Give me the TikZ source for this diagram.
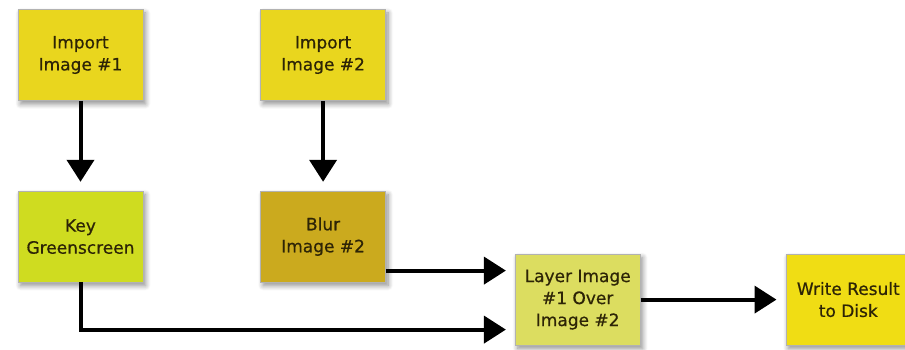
\documentclass[tikz,border=0pt]{standalone}
\usepackage{fontspec}
\setmainfont{DejaVu Sans}
\newfontfamily\boxfont{DejaVu Sans}[FakeBold=0.6]
\usetikzlibrary{positioning,arrows.meta,shadows.blur}

\definecolor{importcol}{RGB}{233,214,30}
\definecolor{keycol}{RGB}{207,220,32}
\definecolor{blurcol}{RGB}{203,170,30}
\definecolor{layercol}{RGB}{220,221,96}
\definecolor{writecol}{RGB}{240,221,20}
\definecolor{boxtext}{RGB}{45,36,6}

\begin{document}
\begin{tikzpicture}[x=1pt,y=1pt,
      box/.style={draw=black!30,line width=0.6pt,minimum width=125pt,minimum height=91pt,
        align=center,text=boxtext,font=\boxfont\fontsize{17}{22}\selectfont,
        blur shadow={shadow xshift=2.5pt,shadow yshift=-3.5pt,shadow blur steps=8,shadow blur radius=5pt,shadow opacity=45}},
      link/.style={line width=4pt,-{Triangle[length=22pt,width=27pt]},shorten >=9pt}]
  \useasboundingbox (0,0) rectangle (905,349);
  \node[box,fill=importcol] (imp1) at (80.5,294) {Import\\Image \#1};
  \node[box,fill=importcol] (imp2) [right=117pt of imp1] {Import\\Image \#2};
  \node[box,fill=keycol] (key) [below=90pt of imp1] {Key\\Greenscreen};
  \node[box,fill=blurcol] (blur) [below=90pt of imp2] {Blur\\Image \#2};
  \node[box,fill=layercol] (layer) [right=129pt of blur,yshift=-63pt] {Layer Image\\\#1 Over\\Image \#2};
  \node[box,fill=writecol] (write) [right=145pt of layer] {Write Result\\to Disk};
  \coordinate (in1) at ([yshift=29pt]layer.west);
  \coordinate (in2) at ([yshift=-30pt]layer.west);
  \draw[link] (imp1) -- (key);
  \draw[link] (imp2) -- (blur);
  \draw[link] (blur.east |- in1) -- (in1);
  \draw[link] (key.south) |- (in2);
  \draw[link] (layer) -- (write);
\end{tikzpicture}
\end{document}
